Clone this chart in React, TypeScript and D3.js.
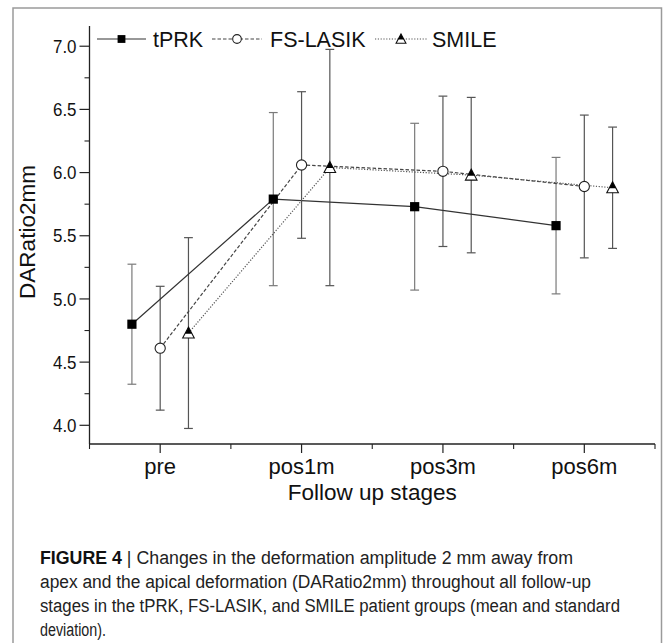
import { useMemo } from 'react'
import { scaleLinear, line, range } from 'd3'

const STAGES = ['pre', 'pos1m', 'pos3m', 'pos6m']

// mean and standard deviation
const TPRK_MEAN = [4.8, 5.79, 5.73, 5.58]
const TPRK_SD = [0.475, 0.685, 0.66, 0.54]
const FS_MEAN = [4.61, 6.06, 6.01, 5.89]
const FS_SD = [0.49, 0.58, 0.595, 0.565]
const SMILE_MEAN = [4.73, 6.04, 5.98, 5.88]
const SMILE_SD = [0.755, 0.935, 0.615, 0.48]

const Y_TICKS = [4.0, 4.5, 5.0, 5.5, 6.0, 6.5, 7.0]
const Y_MINOR = [4.25, 4.75, 5.25, 5.75, 6.25, 6.75]

const CAPTION_LINES = [
  'Changes in the deformation amplitude 2 mm away from',
  'apex and the apical deformation (DARatio2mm) throughout all follow-up',
  'stages in the tPRK, FS-LASIK, and SMILE patient groups (mean and standard',
  'deviation).',
]

type Marker = 'square' | 'circle' | 'triangle'
type Series = { name: string; mean: number[]; sd: number[]; off: number; marker: Marker; dash: string; lineColor: string; barColor: string }

const SERIES: Series[] = [
  { name: 'tPRK', mean: TPRK_MEAN, sd: TPRK_SD, off: -0.2, marker: 'square', dash: '', lineColor: '#333', barColor: '#7a7a7a' },
  { name: 'FS-LASIK', mean: FS_MEAN, sd: FS_SD, off: 0, marker: 'circle', dash: '3.5,2', lineColor: '#444', barColor: '#555' },
  { name: 'SMILE', mean: SMILE_MEAN, sd: SMILE_SD, off: 0.2, marker: 'triangle', dash: '1.2,1.6', lineColor: '#555', barColor: '#555' },
]

const W = 663
const H = 643
const L = 89.5
const R = 655
const T = 26
const B = 444
const FONT = 'Liberation Sans, Arial, Helvetica, sans-serif'

function MarkerShape({ kind, cx, cy, s = 1 }: { kind: Marker; cx: number; cy: number; s?: number }) {
  if (kind === 'square') {
    const h = 4.6 * s
    return <rect x={cx - h} y={cy - h} width={2 * h} height={2 * h} fill="#000" />
  }
  if (kind === 'circle') {
    return <circle cx={cx} cy={cy} r={5.1 * s} fill="#fff" stroke="#222" strokeWidth={1.1} />
  }
  const a = 6 * s
  const b = 5 * s
  const hw = 5.8 * s
  const f = 0.6
  const yCut = cy - a + (a + b) * f
  const wCut = hw * f
  return (
    <g>
      <path d={`M${cx},${cy - a}L${cx + hw},${cy + b}L${cx - hw},${cy + b}Z`} fill="#fff" stroke="#111" strokeWidth={1.1} />
      <path d={`M${cx},${cy - a}L${cx + wCut},${yCut}L${cx - wCut},${yCut}Z`} fill="#000" />
    </g>
  )
}

export default function App() {
  const { x, y } = useMemo(
    () => ({
      x: scaleLinear().domain([0.5, 4.5]).range([L, R]),
      y: scaleLinear().domain([3.852, 7.16]).range([B, T]),
    }),
    [],
  )

  const legend = [
    { x0: 97, x1: 146, m: 121.5, tx: 153 },
    { x0: 212, x1: 262, m: 237, tx: 270 },
    { x0: 375, x1: 427, m: 401, tx: 432 },
  ]

  return (
    <svg width={W} height={H} style={{ position: 'absolute', left: 0, top: 0, background: '#fff' }} fontFamily={FONT}>
      <rect x={13} y={8} width={648.5} height={660} fill="none" stroke="#9a9a9a" strokeWidth={1.5} />

      {/* axes */}
      <line x1={L} y1={T} x2={L} y2={B} stroke="#222" strokeWidth={1.3} />
      <line x1={L} y1={B} x2={R} y2={B} stroke="#222" strokeWidth={1.3} />
      {Y_TICKS.map((t) => (
        <g key={t}>
          <line x1={L - 10} x2={L} y1={y(t)} y2={y(t)} stroke="#222" strokeWidth={1.2} />
          <text x={L - 13} y={y(t)} dy="0.36em" textAnchor="end" fontSize={18.5} fill="#111" textLength={23.5} lengthAdjust="spacingAndGlyphs">
            {t.toFixed(1)}
          </text>
        </g>
      ))}
      {Y_MINOR.map((t) => (
        <line key={t} x1={L - 5} x2={L} y1={y(t)} y2={y(t)} stroke="#222" strokeWidth={1.1} />
      ))}
      {STAGES.map((s, i) => (
        <g key={s}>
          <line x1={x(i + 1)} x2={x(i + 1)} y1={B} y2={B + 9} stroke="#222" strokeWidth={1.2} />
          <text x={x(i + 1)} y={474} textAnchor="middle" fontSize={22} fill="#111">
            {s}
          </text>
        </g>
      ))}
      {range(0.5, 5, 1).map((t) => (
        <line key={t} x1={x(t)} x2={x(t)} y1={B} y2={B + 5} stroke="#222" strokeWidth={1.1} />
      ))}
      <text x={(L + R) / 2} y={499.5} textAnchor="middle" fontSize={22.5} fill="#111">
        Follow up stages
      </text>
      <text transform={`translate(35,232) rotate(-90)`} textAnchor="middle" fontSize={22.5} fill="#111">
        DARatio2mm
      </text>

      {/* error bars */}
      {SERIES.map((s) =>
        s.mean.map((m, i) => {
          const cx = x(i + 1 + s.off)
          const hi = y(m + s.sd[i])
          const lo = y(m - s.sd[i])
          return (
            <g key={s.name + i} stroke={s.barColor} strokeWidth={1.2}>
              <line x1={cx} x2={cx} y1={hi} y2={lo} />
              <line x1={cx - 4.4} x2={cx + 4.4} y1={hi} y2={hi} />
              <line x1={cx - 4.4} x2={cx + 4.4} y1={lo} y2={lo} />
            </g>
          )
        }),
      )}

      {/* mean lines */}
      {SERIES.map((s) => {
        const path = line<number>()
          .x((_, i) => x(i + 1 + s.off))
          .y((d) => y(d))(s.mean)
        return <path key={s.name} d={path ?? ''} fill="none" stroke={s.lineColor} strokeWidth={1.2} strokeDasharray={s.dash || undefined} />
      })}

      {/* markers */}
      {SERIES.map((s) =>
        s.mean.map((m, i) => <MarkerShape key={s.name + i} kind={s.marker} cx={x(i + 1 + s.off)} cy={y(m)} />),
      )}

      {/* legend */}
      {SERIES.map((s, k) => (
        <g key={s.name}>
          <line x1={legend[k].x0} x2={legend[k].x1} y1={39} y2={39} stroke={s.lineColor} strokeWidth={1.2} strokeDasharray={s.dash || undefined} />
          <MarkerShape kind={s.marker} cx={legend[k].m} cy={39} s={0.85} />
          <text x={legend[k].tx} y={47} fontSize={21.5} fill="#111">
            {s.name}
          </text>
        </g>
      ))}

      {/* caption */}
      <text x={40} y={564} fontSize={18} fill="#222" textLength={533} lengthAdjust="spacingAndGlyphs">
        <tspan fontWeight="bold" fill="#111">FIGURE 4</tspan>
        <tspan> | {CAPTION_LINES[0]}</tspan>
      </text>
      <text x={40} y={588} fontSize={18} fill="#222" textLength={551} lengthAdjust="spacingAndGlyphs">
        {CAPTION_LINES[1]}
      </text>
      <text x={40} y={612} fontSize={18} fill="#222" textLength={580} lengthAdjust="spacingAndGlyphs">
        {CAPTION_LINES[2]}
      </text>
      <text x={40} y={636} fontSize={18} fill="#222" textLength={66} lengthAdjust="spacingAndGlyphs">
        {CAPTION_LINES[3]}
      </text>
    </svg>
  )
}
